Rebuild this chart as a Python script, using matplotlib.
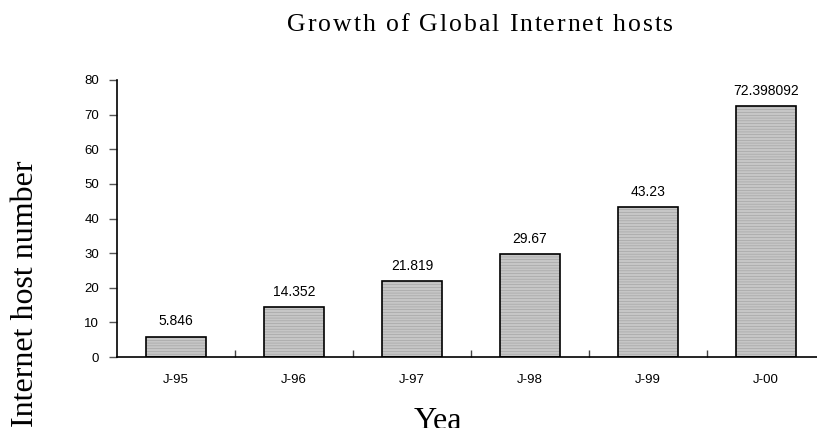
import matplotlib
matplotlib.use("Agg")
import matplotlib.pyplot as plt
import numpy as np

# data
years = ["J-95", "J-96", "J-97", "J-98", "J-99", "J-00"]
hosts = [5.846, 14.352, 21.819, 29.67, 43.23, 72.398092]
yticks = [0, 10, 20, 30, 40, 50, 60, 70, 80]

W, H = 817, 428
matplotlib.rcParams["hatch.linewidth"] = 0.4
fig = plt.figure(figsize=(W / 100, H / 100), dpi=100)
ax = fig.add_axes([117 / W, 71 / H, 708 / W, 277 / H])

x = np.arange(len(years))
bars = ax.bar(x, hosts, width=0.51, color="#c6c6c6", edgecolor="black",
              linewidth=1.2, hatch="------")
for b in bars:
    b._hatch_color = (0.62, 0.62, 0.62, 1.0)

for xi, v in zip(x, hosts):
    ax.text(xi, v + 2.5, str(v), ha="center", va="bottom",
            family="Liberation Sans", fontsize=10)

ax.set_xlim(-0.5, len(years) - 0.5)
ax.set_ylim(0, 80)
ax.set_yticks(yticks)
ax.set_yticklabels([str(t) for t in yticks], family="Liberation Sans", fontsize=9.5)

# boundary ticks (unlabelled) and category labels
ax.set_xticks(np.arange(0.5, len(years) - 0.5, 1))
ax.set_xticklabels([])
ax.set_xticks(x, minor=True)
ax.set_xticklabels(years, minor=True, family="Liberation Sans", fontsize=9.5)
ax.tick_params(axis="x", which="major", direction="in", length=5, width=1, color="#444444")
ax.tick_params(axis="x", which="minor", length=0, pad=12)
ax.tick_params(axis="y", direction="out", length=6, width=1, color="#555555", pad=7)

for s in ["top", "right"]:
    ax.spines[s].set_visible(False)
ax.spines["left"].set_linewidth(1.2)
ax.spines["bottom"].set_linewidth(1.2)

# axis titles in Times style
fig.text(26 / W, (H - 294) / H, "Internet host number", rotation=90, ha="center", va="center",
         family="Liberation Serif", fontsize=23)
fig.text(437.5 / W, -1 / H, "Yea", ha="center", va="baseline",
         family="Liberation Serif", fontsize=23)

# letter-spaced title
title = "Growth of Global Internet hosts"
renderer = fig.canvas.get_renderer()
tsize = 18.5
spacing = 1.9


def width_of(s):
    t = fig.text(0, 0, s + "|", family="Liberation Serif", fontsize=tsize)
    w = t.get_window_extent(renderer).width
    t.remove()
    return w


bar_w = width_of("")
x0 = 287
for i, ch in enumerate(title):
    if ch == " ":
        continue
    px = x0 + (width_of(title[:i]) - bar_w) + i * spacing
    fig.text(px / W, (H - 31) / H, ch, ha="left", va="baseline",
             family="Liberation Serif", fontsize=tsize)

fig.savefig("out.png", dpi=100)
